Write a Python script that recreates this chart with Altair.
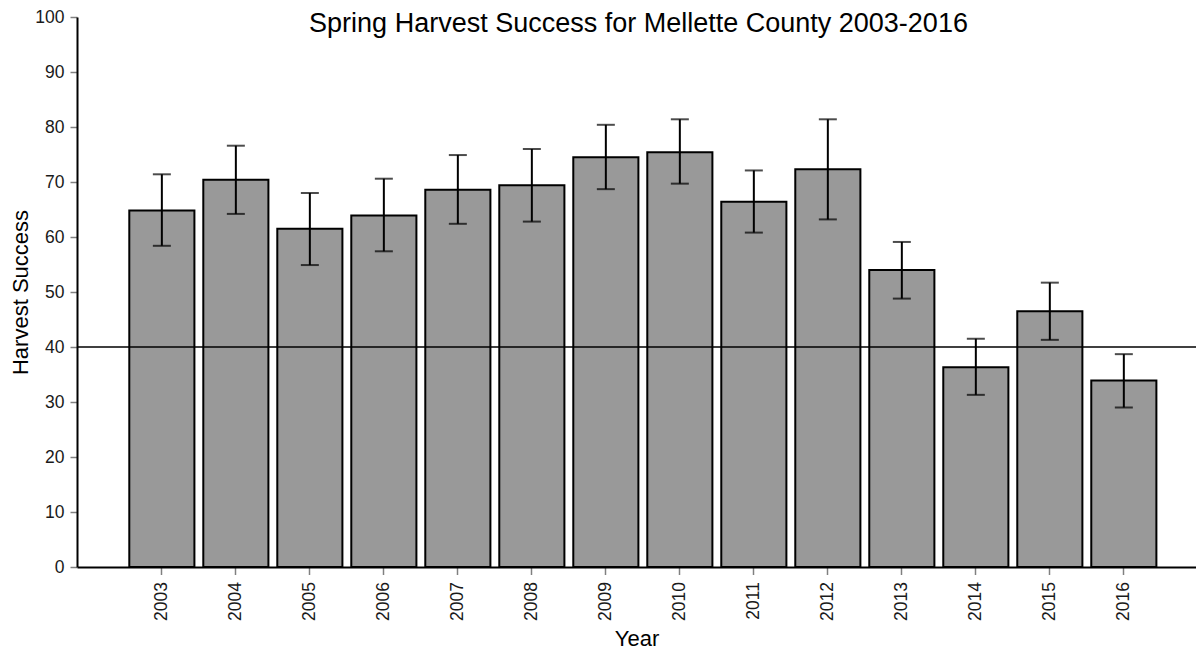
import altair as alt
import pandas as pd

# ---- data ----
years = ["2003", "2004", "2005", "2006", "2007", "2008", "2009",
         "2010", "2011", "2012", "2013", "2014", "2015", "2016"]
success = [64.8, 70.4, 61.5, 63.9, 68.6, 69.4, 74.5,
           75.4, 66.4, 72.3, 54.0, 36.3, 46.5, 33.9]
err_low = [58.4, 64.2, 54.9, 57.4, 62.4, 62.8, 68.7,
           69.7, 60.8, 63.2, 48.8, 31.3, 41.3, 29.0]
err_high = [71.4, 76.6, 68.0, 70.6, 74.9, 76.0, 80.4,
            81.4, 72.1, 81.4, 59.1, 41.5, 51.7, 38.7]
reference_level = [40]
y_ticks = [0, 10, 20, 30, 40, 50, 60, 70, 80, 90, 100]
title_text = ["Spring Harvest Success for Mellette County 2003-2016"]

df = pd.DataFrame({"Year": years, "Success": success, "Low": err_low, "High": err_high})
ref_df = pd.DataFrame({"ref": reference_level})
title_df = pd.DataFrame({"t": title_text})

FONT = "Liberation Sans"
W, H = 1119, 550

x_enc = alt.X(
    "Year:N",
    sort=years,
    scale=alt.Scale(paddingInner=0.12, paddingOuter=0.621, align=0.569),
    axis=alt.Axis(
        title="Year", labelAngle=270, tickSize=7.5, tickColor="#808080", tickWidth=1.5,
        domainColor="black", domainWidth=2, labelFontSize=17.5, labelFont=FONT,
        labelColor="#1a1a1a", labelPadding=7, titleFont=FONT, titleFontSize=22,
        titleFontWeight="normal", titleColor="black", titlePadding=8, grid=False,
    ),
)

y_scale = alt.Scale(domain=[0, 100], nice=False, zero=True)
y_axis = alt.Axis(
    title="Harvest Success", values=y_ticks, tickSize=7, tickColor="#808080",
    tickWidth=1.5, domainColor="black", domainWidth=2, labelFontSize=17.5,
    labelFont=FONT, labelColor="#1a1a1a", labelPadding=6, titleFont=FONT,
    titleFontSize=22, titleFontWeight="normal", titleColor="black",
    titlePadding=2, grid=False,
)

bars = alt.Chart(df).mark_bar(fill="#999999", stroke="black", strokeWidth=2).encode(
    x=x_enc,
    y=alt.Y("Success:Q", scale=y_scale, axis=y_axis),
)

ref_line = alt.Chart(ref_df).mark_rule(color="black", strokeWidth=1.5).encode(
    y=alt.Y("ref:Q", scale=y_scale, axis=y_axis)
)

err_rule = alt.Chart(df).mark_rule(color="black", strokeWidth=2).encode(
    x=x_enc,
    y=alt.Y("Low:Q", scale=y_scale, axis=y_axis),
    y2="High:Q",
)

cap_low = alt.Chart(df).mark_tick(color="black", size=18, thickness=2).encode(
    x=x_enc, y=alt.Y("Low:Q", scale=y_scale, axis=y_axis)
)
cap_high = alt.Chart(df).mark_tick(color="black", size=18, thickness=2).encode(
    x=x_enc, y=alt.Y("High:Q", scale=y_scale, axis=y_axis)
)

title = alt.Chart(title_df).mark_text(
    font=FONT, fontSize=27, color="black", align="center", baseline="top"
).encode(text="t:N", x=alt.value(W / 2 + 2), y=alt.value(-6))

chart = alt.layer(bars, ref_line, err_rule, cap_low, cap_high, title).properties(
    width=W,
    height=H,
    autosize=alt.AutoSizeParams(type="none"),
    padding={"left": 69, "top": 9, "right": 0, "bottom": 83},
).configure(background="white").configure_view(stroke=None)

chart.save("out.html", embed_options={"renderer": "svg", "actions": False})
